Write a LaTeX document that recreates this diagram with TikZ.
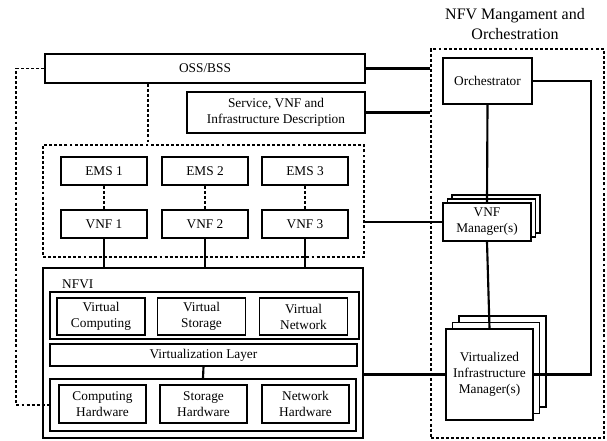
\documentclass[tikz,border=0pt]{standalone}
\usepackage{fontspec}
\setmainfont{Liberation Serif}
\begin{document}
\begin{tikzpicture}[x=0.75pt, y=-0.75pt,
  font=\fontsize{10}{12}\selectfont,
  box/.style={draw, line width=1.2pt, fill=white, align=center, inner sep=1pt},
  thinbox/.style={draw, line width=0.8pt, fill=white, align=center, inner sep=1pt},
  groupbox/.style={draw, line width=1.5pt},
  dotbox/.style={draw, line width=1.2pt, dash pattern=on 2.2pt off 1.6pt},
  link/.style={line width=1.6pt},
  dotlink/.style={line width=1.3pt, dash pattern=on 2.2pt off 1.6pt}]
  \useasboundingbox (0,0) rectangle (607,441);

  % MANO block
  \node[dotbox, minimum width=129.75pt, minimum height=291.75pt] (mano) at (517.5,243.5) {};
  \node[align=center, font=\fontsize{12}{15}\selectfont] (manotitle) at (515,24) {NFV Mangament and\\Orchestration};
  \node[box, minimum width=66.75pt, minimum height=34.5pt] (orch) at (487.5,81) {Orchestrator};

  % VNF manager (stacked)
  \node[box, minimum width=66pt, minimum height=28.5pt] (vnfmC) at (496,214) {};
  \node[box, minimum width=66pt, minimum height=28.5pt] (vnfmB) at (491.5,218) {};
  \node[box, minimum width=66pt, minimum height=28.5pt] (vnfm) at (487,222) {VNF\\Manager(s)};

  % VIM (stacked)
  \node[box, minimum width=65.25pt, minimum height=68.25pt] (vimC) at (502.5,361.5) {};
  \node[box, minimum width=65.25pt, minimum height=68.25pt] (vimB) at (496,368) {};
  \node[box, minimum width=65.25pt, minimum height=68.25pt] (vim) at (489.5,374.5) {Virtualized\\Infrastructure\\Manager(s)};

  % OSS/BSS and descriptions
  \node[box, minimum width=240pt, minimum height=21.75pt] (oss) at (205,68.5) {OSS/BSS};
  \node[box, minimum width=133.5pt, minimum height=30.75pt] (desc) at (276,112.5) {Service, VNF and\\Infrastructure Description};

  % VNFs and EMSs
  \node[dotbox, minimum width=240.75pt, minimum height=84pt] (vnfs) at (203.5,201) {};
  \foreach \i/\x in {1/104, 2/205, 3/305} {
    \node[box, minimum width=64.5pt, minimum height=21pt] (ems\i) at (\x,171) {EMS \i};
    \node[box, minimum width=64.5pt, minimum height=21pt] (vnf\i) at (\x,224) {VNF \i};
    \draw[dotlink] (ems\i) -- (vnf\i);
  }

  % NFVI
  \node[thinbox, line width=1pt, minimum width=240pt, minimum height=127.5pt] (nfvi) at (203,353) {};
  \node[anchor=west] (nfvilabel) at (57.5,284) {NFVI};
  \node[groupbox, minimum width=231.75pt, minimum height=35.25pt] (virt) at (204.5,315.5) {};
  \node[box, minimum width=66pt, minimum height=27.75pt] (vcomp) at (101,316.5) {Virtual\\Computing};
  \node[box, minimum width=66pt, minimum height=27.75pt] (vstor) at (201.5,316.5) {Virtual\\Storage};
  \node[box, minimum width=66pt, minimum height=27.75pt] (vnet) at (303.5,316.5) {Virtual\\Network};
  \node[thinbox, minimum width=230.25pt, minimum height=16.5pt] (vlayer) at (203.5,355) {Virtualization Layer};
  \node[groupbox, minimum width=229.5pt, minimum height=39pt] (hw) at (203,405) {};
  \node[box, minimum width=65.25pt, minimum height=28.5pt] (hcomp) at (102.5,404) {Computing\\Hardware};
  \node[box, minimum width=65.25pt, minimum height=28.5pt] (hstor) at (203.5,404) {Storage\\Hardware};
  \node[box, minimum width=65.25pt, minimum height=28.5pt] (hnet) at (305.5,404) {Network\\Hardware};

  % Links
  \draw[link] (oss.east) -- (oss.east -| mano.west);
  \draw[link] (desc.east) -- (desc.east -| mano.west);
  \draw[dotlink] (ems1.east |- oss.south) -- (ems1.east |- vnfs.north);
  \draw[dotlink] (oss.west) -- ++(-28,0) |- (hw.west);
  \foreach \i in {1,2,3}
    \draw[link] (vnf\i.south) -- (vnf\i.south |- nfvi.north);
  \draw[link] (vlayer.south) -- (hw.north);
  \draw[link] (vnfs.east |- vnfm.west) -- (vnfm.west);
  \draw[link] (nfvi.east |- vim.west) -- (vim.west);
  \draw[link] (orch.south) -- (vnfm.north);
  \draw[link] (vnfm.south) -- (vim.north);
  \draw[link] (orch.east) -- (orch.east -| 591,0) |- (vim.east);
\end{tikzpicture}
\end{document}
